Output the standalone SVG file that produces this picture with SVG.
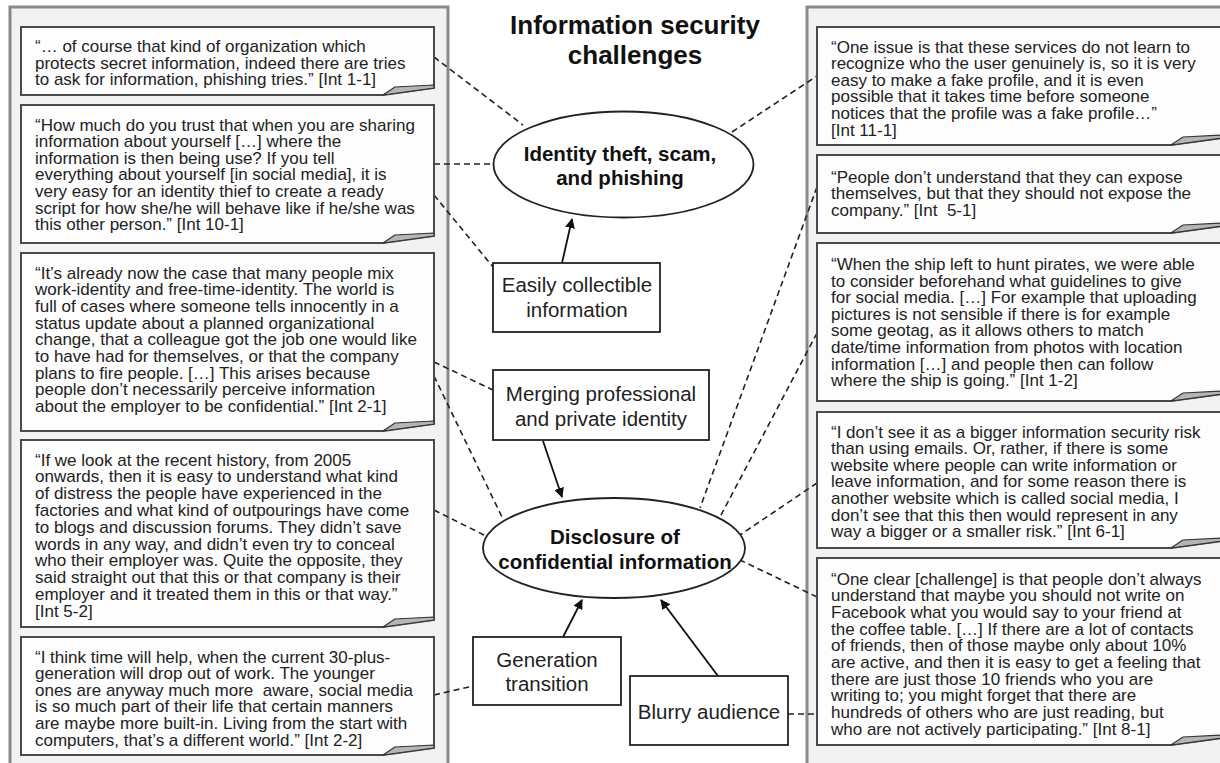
<svg xmlns="http://www.w3.org/2000/svg" width="1220" height="763" viewBox="0 0 1220 763">
<defs>
<marker id="ah" viewBox="0 0 10 10" refX="9" refY="5" markerWidth="10" markerHeight="10" markerUnits="userSpaceOnUse" orient="auto">
<path d="M0,0 L10,5 L0,10 Z" fill="#111"/>
</marker>
<style>
.panel{fill:#f2f2f2;stroke:#8a8a8a;stroke-width:3}
.box{fill:#fdfdfd;stroke:#4a4a4a;stroke-width:2}
.fold{fill:#b5b5b5;stroke:#333;stroke-width:1.2;stroke-linejoin:round}
.q{font-family:"Liberation Sans",Arial,sans-serif;font-size:17px;fill:#222;white-space:pre}
.node{fill:#fff;stroke:#222;stroke-width:1.8}
.nt{font-family:"Liberation Sans",Arial,sans-serif;font-size:20.5px;fill:#222;text-anchor:middle}
.bt{font-family:"Liberation Sans",Arial,sans-serif;font-size:20.5px;font-weight:bold;fill:#111;text-anchor:middle}
.title{font-family:"Liberation Sans",Arial,sans-serif;font-size:26px;font-weight:bold;fill:#111;text-anchor:middle}
.dash{fill:none;stroke:#222;stroke-width:1.6;stroke-dasharray:6 4}
.arr{fill:none;stroke:#111;stroke-width:1.8;marker-end:url(#ah)}
</style>
</defs>
<rect width="1220" height="763" fill="#fff"/>
<rect class="panel" x="10" y="7" width="438" height="770"/>
<rect class="panel" x="807" y="7" width="430" height="770"/>

<text class="title" x="635" y="34">Information security</text>
<text class="title" x="635" y="64">challenges</text>

<g id="connectors">
<line class="dash" x1="434" y1="57" x2="523" y2="125"/>
<line class="dash" x1="434" y1="164" x2="493" y2="164"/>
<line class="dash" x1="434" y1="195" x2="493" y2="267"/>
<line class="dash" x1="434" y1="362" x2="493" y2="390"/>
<line class="dash" x1="434" y1="376" x2="502" y2="517"/>
<line class="dash" x1="434" y1="510" x2="484" y2="535"/>
<line class="dash" x1="434" y1="695" x2="473" y2="686"/>
<line class="dash" x1="732" y1="132" x2="817" y2="76"/>
<line class="dash" x1="817" y1="187" x2="700" y2="508"/>
<line class="dash" x1="817" y1="333" x2="720" y2="517"/>
<line class="dash" x1="817" y1="483" x2="740" y2="535"/>
<line class="dash" x1="817" y1="597" x2="740" y2="560"/>
<line class="dash" x1="788" y1="714" x2="817" y2="714"/>
<line class="arr" x1="562" y1="263" x2="572" y2="219"/>
<line class="arr" x1="543" y1="441" x2="562" y2="497"/>
<line class="arr" x1="563" y1="637" x2="582" y2="600"/>
<line class="arr" x1="718" y1="676" x2="661" y2="600"/>
</g>

<g id="q-int1-1">
<path class="box" d="M21,27 H434 V88 L383,95 H21 Z"/>
<path class="fold" d="M383,95 L395,87 L434,85 L434,88 Z"/>
<text class="q" x="35" y="52"><tspan x="35">“… of course that kind of organization which</tspan><tspan x="35" dy="16.6">protects secret information, indeed there are tries</tspan><tspan x="35" dy="16.6">to ask for information, phishing tries.” [Int 1-1]</tspan></text>
</g>

<g id="q-int10-1">
<path class="box" d="M21,105 H434 V236 L383,243 H21 Z"/>
<path class="fold" d="M383,243 L395,235 L434,233 L434,236 Z"/>
<text class="q" x="35" y="130.5"><tspan x="35">“How much do you trust that when you are sharing</tspan><tspan x="35" dy="16.6">information about yourself […] where the</tspan><tspan x="35" dy="16.6">information is then being use? If you tell</tspan><tspan x="35" dy="16.6">everything about yourself [in social media], it is</tspan><tspan x="35" dy="16.6">very easy for an identity thief to create a ready</tspan><tspan x="35" dy="16.6">script for how she/he will behave like if he/she was</tspan><tspan x="35" dy="16.6">this other person.” [Int 10-1]</tspan></text>
</g>

<g id="q-int2-1">
<path class="box" d="M21,253 H434 V424 L383,431 H21 Z"/>
<path class="fold" d="M383,431 L395,423 L434,421 L434,424 Z"/>
<text class="q" x="35" y="278.5"><tspan x="35">“It’s already now the case that many people mix</tspan><tspan x="35" dy="16.7">work-identity and free-time-identity. The world is</tspan><tspan x="35" dy="16.7">full of cases where someone tells innocently in a</tspan><tspan x="35" dy="16.7">status update about a planned organizational</tspan><tspan x="35" dy="16.7">change, that a colleague got the job one would like</tspan><tspan x="35" dy="16.7">to have had for themselves, or that the company</tspan><tspan x="35" dy="16.7">plans to fire people. […] This arises because</tspan><tspan x="35" dy="16.7">people don’t necessarily perceive information</tspan><tspan x="35" dy="16.7">about the employer to be confidential.” [Int 2-1]</tspan></text>
</g>

<g id="q-int5-2">
<path class="box" d="M21,440 H434 V620 L383,627 H21 Z"/>
<path class="fold" d="M383,627 L395,619 L434,617 L434,620 Z"/>
<text class="q" x="35" y="465.5"><tspan x="35">“If we look at the recent history, from 2005</tspan><tspan x="35" dy="16.8">onwards, then it is easy to understand what kind</tspan><tspan x="35" dy="16.8">of distress the people have experienced in the</tspan><tspan x="35" dy="16.8">factories and what kind of outpourings have come</tspan><tspan x="35" dy="16.8">to blogs and discussion forums. They didn’t save</tspan><tspan x="35" dy="16.8">words in any way, and didn’t even try to conceal</tspan><tspan x="35" dy="16.8">who their employer was. Quite the opposite, they</tspan><tspan x="35" dy="16.8">said straight out that this or that company is their</tspan><tspan x="35" dy="16.8">employer and it treated them in this or that way.”</tspan><tspan x="35" dy="16.8">[Int 5-2]</tspan></text>
</g>

<g id="q-int2-2">
<path class="box" d="M21,637 H434 V748 L383,755 H21 Z"/>
<path class="fold" d="M383,755 L395,747 L434,745 L434,748 Z"/>
<text class="q" x="35" y="662.5"><tspan x="35">“I think time will help, when the current 30-plus-</tspan><tspan x="35" dy="16.6">generation will drop out of work. The younger</tspan><tspan x="35" dy="16.6">ones are anyway much more  aware, social media</tspan><tspan x="35" dy="16.6">is so much part of their life that certain manners</tspan><tspan x="35" dy="16.6">are maybe more built-in. Living from the start with</tspan><tspan x="35" dy="16.6">computers, that’s a different world.” [Int 2-2]</tspan></text>
</g>

<g id="q-int11-1">
<path class="box" d="M817,27 H1222 V138 L1171,145 H817 Z"/>
<path class="fold" d="M1171,145 L1183,137 L1222,135 L1222,138 Z"/>
<text class="q" x="831" y="52.5"><tspan x="831">“One issue is that these services do not learn to</tspan><tspan x="831" dy="16.6">recognize who the user genuinely is, so it is very</tspan><tspan x="831" dy="16.6">easy to make a fake profile, and it is even</tspan><tspan x="831" dy="16.6">possible that it takes time before someone</tspan><tspan x="831" dy="16.6">notices that the profile was a fake profile…”</tspan><tspan x="831" dy="16.6">[Int 11-1]</tspan></text>
</g>

<g id="q-int5-1">
<path class="box" d="M817,155 H1222 V226 L1171,233 H817 Z"/>
<path class="fold" d="M1171,233 L1183,225 L1222,223 L1222,226 Z"/>
<text class="q" x="831" y="182.5"><tspan x="831">“People don’t understand that they can expose</tspan><tspan x="831" dy="16.6">themselves, but that they should not expose the</tspan><tspan x="831" dy="16.6">company.” [Int  5-1]</tspan></text>
</g>

<g id="q-int1-2">
<path class="box" d="M817,243 H1222 V394 L1171,401 H817 Z"/>
<path class="fold" d="M1171,401 L1183,393 L1222,391 L1222,394 Z"/>
<text class="q" x="831" y="270"><tspan x="831">“When the ship left to hunt pirates, we were able</tspan><tspan x="831" dy="16.6">to consider beforehand what guidelines to give</tspan><tspan x="831" dy="16.6">for social media. […] For example that uploading</tspan><tspan x="831" dy="16.6">pictures is not sensible if there is for example</tspan><tspan x="831" dy="16.6">some geotag, as it allows others to match</tspan><tspan x="831" dy="16.6">date/time information from photos with location</tspan><tspan x="831" dy="16.6">information […] and people then can follow</tspan><tspan x="831" dy="16.6">where the ship is going.” [Int 1-2]</tspan></text>
</g>

<g id="q-int6-1">
<path class="box" d="M817,412 H1222 V541 L1171,548 H817 Z"/>
<path class="fold" d="M1171,548 L1183,540 L1222,538 L1222,541 Z"/>
<text class="q" x="831" y="437.5"><tspan x="831">“I don’t see it as a bigger information security risk</tspan><tspan x="831" dy="16.6">than using emails. Or, rather, if there is some</tspan><tspan x="831" dy="16.6">website where people can write information or</tspan><tspan x="831" dy="16.6">leave information, and for some reason there is</tspan><tspan x="831" dy="16.6">another website which is called social media, I</tspan><tspan x="831" dy="16.6">don’t see that this then would represent in any</tspan><tspan x="831" dy="16.6">way a bigger or a smaller risk.” [Int 6-1]</tspan></text>
</g>

<g id="q-int8-1">
<path class="box" d="M817,558 H1222 V738 L1171,745 H817 Z"/>
<path class="fold" d="M1171,745 L1183,737 L1222,735 L1222,738 Z"/>
<text class="q" x="831" y="584.5"><tspan x="831">“One clear [challenge] is that people don’t always</tspan><tspan x="831" dy="16.7">understand that maybe you should not write on</tspan><tspan x="831" dy="16.7">Facebook what you would say to your friend at</tspan><tspan x="831" dy="16.7">the coffee table. […] If there are a lot of contacts</tspan><tspan x="831" dy="16.7">of friends, then of those maybe only about 10%</tspan><tspan x="831" dy="16.7">are active, and then it is easy to get a feeling that</tspan><tspan x="831" dy="16.7">there are just those 10 friends who you are</tspan><tspan x="831" dy="16.7">writing to; you might forget that there are</tspan><tspan x="831" dy="16.7">hundreds of others who are just reading, but</tspan><tspan x="831" dy="16.7">who are not actively participating.” [Int 8-1]</tspan></text>
</g>

<g id="identity-theft">
<ellipse class="node" cx="623.5" cy="164.5" rx="130" ry="53"/>
<text class="bt" x="620" y="161">Identity theft, scam,</text>
<text class="bt" x="620" y="185">and phishing</text>
</g>

<g id="disclosure">
<ellipse class="node" cx="614" cy="548" rx="131" ry="50"/>
<text class="bt" x="615" y="544">Disclosure of</text>
<text class="bt" x="615" y="569">confidential information</text>
</g>

<g id="easily-collectible">
<rect class="node" x="493" y="263" width="167" height="69"/>
<text class="nt" x="577" y="292">Easily collectible</text>
<text class="nt" x="577" y="317">information</text>
</g>

<g id="merging">
<rect class="node" x="493" y="370" width="216" height="70"/>
<text class="nt" x="601" y="401">Merging professional</text>
<text class="nt" x="601" y="426">and private identity</text>
</g>

<g id="generation">
<rect class="node" x="473" y="637" width="148" height="68"/>
<text class="nt" x="547" y="667">Generation</text>
<text class="nt" x="547" y="691">transition</text>
</g>

<g id="blurry">
<rect class="node" x="630" y="676" width="158" height="69"/>
<text class="nt" x="709" y="719">Blurry audience</text>
</g>
</svg>
